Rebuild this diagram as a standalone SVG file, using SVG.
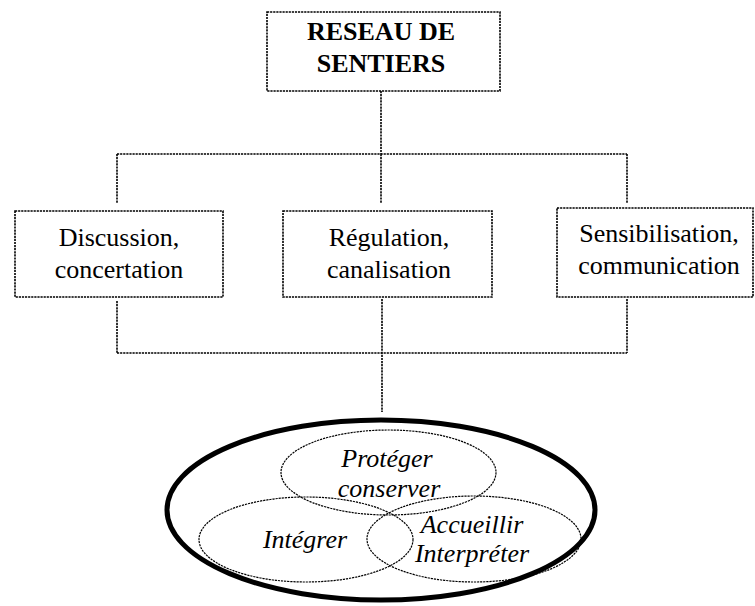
<svg xmlns="http://www.w3.org/2000/svg" width="755" height="606" viewBox="0 0 755 606">
<style>
.box{fill:#fff;stroke:#000;stroke-width:1.6;stroke-dasharray:2.2 0.9}
.con{fill:none;stroke:#000;stroke-width:1.6;stroke-dasharray:2.2 0.9}
.ell{fill:none;stroke:#000;stroke-width:1.2;stroke-dasharray:2.2 0.9}
.t{font-family:"Liberation Serif","Times New Roman",serif;font-size:26px;fill:#000;text-anchor:middle}
.b{font-weight:bold}
.i{font-style:italic}
</style>
<rect width="755" height="606" fill="#fff"/>
<g id="connectors">
<path class="con" d="M381 91V154M117 154H627M117 154V203M381 154V203M627 154V203"/>
<path class="con" d="M117 301V353M382 299V412M627 299V353M117 353H627"/>
</g>
<g id="reseau">
<rect class="box" x="267" y="12" width="233" height="79"/>
<text class="t b" x="381" y="40">RESEAU DE</text>
<text class="t b" x="381" y="72">SENTIERS</text>
</g>
<g id="discussion">
<rect class="box" x="15" y="211" width="208" height="86"/>
<text class="t" x="119" y="246">Discussion,</text>
<text class="t" x="119" y="278">concertation</text>
</g>
<g id="regulation">
<rect class="box" x="283" y="211" width="209" height="86"/>
<text class="t" x="389" y="246">Régulation,</text>
<text class="t" x="389" y="278">canalisation</text>
</g>
<g id="sensibilisation">
<rect class="box" x="557" y="208" width="196" height="89"/>
<text class="t" x="659" y="242">Sensibilisation,</text>
<text class="t" x="659" y="274">communication</text>
</g>
<g id="ensemble">
<ellipse cx="381" cy="510" rx="214" ry="90" fill="none" stroke="#000" stroke-width="5"/>
</g>
<g id="proteger">
<ellipse class="ell" cx="388.5" cy="472.5" rx="107.5" ry="42.5"/>
<text class="t i" x="387" y="467">Protéger</text>
<text class="t i" x="389" y="497">conserver</text>
</g>
<g id="integrer">
<ellipse class="ell" cx="306" cy="539.5" rx="107" ry="42.5"/>
<text class="t i" x="305" y="548">Intégrer</text>
</g>
<g id="accueillir">
<ellipse class="ell" cx="474" cy="539" rx="107" ry="43"/>
<text class="t i" x="472" y="533">Accueillir</text>
<text class="t i" x="472" y="562">Interpréter</text>
</g>
</svg>
